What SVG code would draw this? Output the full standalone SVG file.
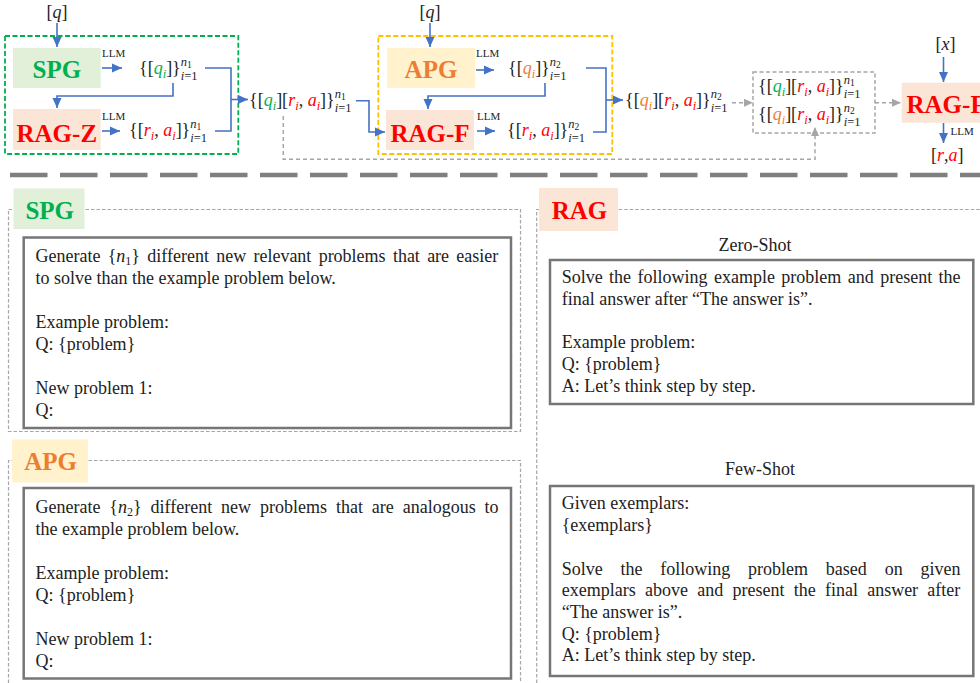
<svg xmlns="http://www.w3.org/2000/svg" width="980" height="683" viewBox="0 0 980 683">
<defs>
<marker id="ab" markerUnits="userSpaceOnUse" markerWidth="11" markerHeight="10" refX="10" refY="5" orient="auto"><path d="M0,0.5 L10,5 L0,9.5 z" fill="#4472C4"/></marker>
<marker id="ag" markerUnits="userSpaceOnUse" markerWidth="10" markerHeight="10" refX="9" refY="4.5" orient="auto"><path d="M0,0.5 L9,4.5 L0,8.5 z" fill="#A6A6A6"/></marker>
<style>
.t{font-family:"Liberation Serif","Times New Roman",serif;fill:#222}
.p{font-size:18px}
.m{font-size:18px}
.it{font-style:italic}
.s{font-size:12.5px}
.ss{font-size:9.5px}
.g{fill:#00B050}
.r{fill:#FF0000}
.o{fill:#ED7D31}
.lbl{font-family:"Liberation Serif","Times New Roman",serif;font-weight:bold;font-size:25px}
.mid{text-anchor:middle}
.llm{font-size:11px}
.bl{fill:none;stroke:#4472C4;stroke-width:1.6;marker-end:url(#ab)}
.bln{fill:none;stroke:#4472C4;stroke-width:1.6}
.gda{fill:none;stroke:#A6A6A6;stroke-width:1.5;stroke-dasharray:4 3;marker-end:url(#ag)}
.box{fill:#fff;stroke:#767676;stroke-width:2.5}
.frame{fill:none;stroke:#A6A6A6;stroke-width:1.2;stroke-dasharray:3.5 2}
</style>
</defs>
<rect width="980" height="683" fill="#fff"/>

<!-- group frames -->
<g id="group-spg">
<rect x="5" y="36" width="233.3" height="118" fill="none" stroke="#00B050" stroke-width="1.8" stroke-dasharray="5 2.5"/>
</g>
<g id="group-apg">
<rect x="378.3" y="36" width="234" height="118" fill="none" stroke="#FFC000" stroke-width="1.8" stroke-dasharray="5 2.5"/>
</g>

<!-- connectors -->
<g id="connectors">
<path class="bl" d="M57,23 V47"/>
<path class="bl" d="M102,68 H122"/>
<path class="bl" d="M173,83 V96 H57 V108"/>
<path class="bl" d="M102,131 H120"/>
<path class="bln" d="M205,68 H231 V131 H215"/>
<path class="bl" d="M231,99.5 H248"/>
<path class="bl" d="M356,100.7 H369 V132 H385"/>
<path class="bl" d="M430,23 V47"/>
<path class="bl" d="M476,70 H494"/>
<path class="bl" d="M545,83 V96 H428 V109"/>
<path class="bl" d="M477,131 H495"/>
<path class="bln" d="M586,68 H606 V132 H593"/>
<path class="bl" d="M606,100 H623"/>
<path class="bl" d="M943.5,57 V82"/>
<path class="bl" d="M943.5,123 V143"/>
<path class="gda" d="M732,102.7 H753"/>
<path class="gda" d="M875,102.7 H901"/>
<path class="gda" d="M283.3,116 V159.3 H815 V127"/>
</g>

<!-- inputs / labels -->
<g id="input-q1"><text class="t m mid" x="57" y="18">[<tspan class="it">q</tspan>]</text></g>
<g id="input-q2"><text class="t m mid" x="430" y="18">[<tspan class="it">q</tspan>]</text></g>
<g id="input-x"><text class="t m mid" x="945.5" y="50">[<tspan class="it">x</tspan>]</text></g>
<g id="output-ra"><text class="t m" x="931" y="160.5">[<tspan class="it r">r</tspan>,<tspan class="it r">a</tspan>]</text></g>

<g id="llm-labels">
<text class="t llm" x="102" y="57">LLM</text>
<text class="t llm" x="102" y="120">LLM</text>
<text class="t llm" x="476" y="57">LLM</text>
<text class="t llm" x="477" y="120">LLM</text>
<text class="t llm" x="950.5" y="135">LLM</text>
</g>

<!-- top nodes -->
<g id="node-spg">
<rect x="13" y="48" width="87.7" height="40" fill="#E2F0D9"/>
<text class="lbl g mid" x="56.8" y="78">SPG</text>
</g>
<g id="node-ragz">
<rect x="13" y="109" width="87.7" height="41" fill="#FBE5D6"/>
<text class="lbl r mid" x="56.8" y="141.7">RAG-Z</text>
</g>
<g id="node-apg">
<rect x="387" y="48" width="88" height="40" fill="#FFF2CC"/>
<text class="lbl o mid" x="431" y="78.3">APG</text>
</g>
<g id="node-ragf">
<rect x="386" y="110" width="88" height="40" fill="#FBE5D6"/>
<text class="lbl r mid" x="430" y="141.7">RAG-F</text>
</g>
<g id="node-ragf-final">
<rect x="901.7" y="82.7" width="100" height="40" fill="#FBE5D6"/>
<text class="lbl r" x="906.5" y="113.3">RAG-F</text>
</g>

<!-- math nodes -->
<g id="math-q-n1"><text class="t m" x="139" y="74">{[<tspan class="it g">q</tspan><tspan class="it g s" dy="3.5">i</tspan><tspan dy="-3.5">]}</tspan><tspan class="it s" dy="-8">n</tspan><tspan class="ss" dy="2">1</tspan><tspan class="s" dx="-11" dy="11.5"><tspan class="it">i</tspan>=1</tspan></text></g>
<g id="math-ra-n1"><text class="t m" x="129" y="136">{[<tspan class="it r">r</tspan><tspan class="it r s" dy="3.5">i</tspan><tspan dy="-3.5">, </tspan><tspan class="it r">a</tspan><tspan class="it r s" dy="3.5">i</tspan><tspan dy="-3.5">]}</tspan><tspan class="it s" dy="-8">n</tspan><tspan class="ss" dy="2">1</tspan><tspan class="s" dx="-11" dy="11.5"><tspan class="it">i</tspan>=1</tspan></text></g>
<g id="math-qra-n1"><text class="t m" x="249" y="106">{[<tspan class="it g">q</tspan><tspan class="it g s" dy="3.5">i</tspan><tspan dy="-3.5">][</tspan><tspan class="it r">r</tspan><tspan class="it r s" dy="3.5">i</tspan><tspan dy="-3.5">, </tspan><tspan class="it r">a</tspan><tspan class="it r s" dy="3.5">i</tspan><tspan dy="-3.5">]}</tspan><tspan class="it s" dy="-8">n</tspan><tspan class="ss" dy="2">1</tspan><tspan class="s" dx="-11" dy="11.5"><tspan class="it">i</tspan>=1</tspan></text></g>
<g id="math-q-n2"><text class="t m" x="508" y="74">{[<tspan class="it o">q</tspan><tspan class="it o s" dy="3.5">i</tspan><tspan dy="-3.5">]}</tspan><tspan class="it s" dy="-8">n</tspan><tspan class="ss" dy="2">2</tspan><tspan class="s" dx="-11" dy="11.5"><tspan class="it">i</tspan>=1</tspan></text></g>
<g id="math-ra-n2"><text class="t m" x="507" y="136">{[<tspan class="it r">r</tspan><tspan class="it r s" dy="3.5">i</tspan><tspan dy="-3.5">, </tspan><tspan class="it r">a</tspan><tspan class="it r s" dy="3.5">i</tspan><tspan dy="-3.5">]}</tspan><tspan class="it s" dy="-8">n</tspan><tspan class="ss" dy="2">2</tspan><tspan class="s" dx="-11" dy="11.5"><tspan class="it">i</tspan>=1</tspan></text></g>
<g id="math-qra-n2"><text class="t m" x="625" y="106">{[<tspan class="it o">q</tspan><tspan class="it o s" dy="3.5">i</tspan><tspan dy="-3.5">][</tspan><tspan class="it r">r</tspan><tspan class="it r s" dy="3.5">i</tspan><tspan dy="-3.5">, </tspan><tspan class="it r">a</tspan><tspan class="it r s" dy="3.5">i</tspan><tspan dy="-3.5">]}</tspan><tspan class="it s" dy="-8">n</tspan><tspan class="ss" dy="2">2</tspan><tspan class="s" dx="-11" dy="11.5"><tspan class="it">i</tspan>=1</tspan></text></g>
<g id="node-merged">
<rect x="753" y="72" width="122" height="61" fill="none" stroke="#A6A6A6" stroke-width="1.5" stroke-dasharray="4 2.5"/>
<text class="t m" x="758" y="92">{[<tspan class="it g">q</tspan><tspan class="it g s" dy="3.5">i</tspan><tspan dy="-3.5">][</tspan><tspan class="it r">r</tspan><tspan class="it r s" dy="3.5">i</tspan><tspan dy="-3.5">, </tspan><tspan class="it r">a</tspan><tspan class="it r s" dy="3.5">i</tspan><tspan dy="-3.5">]}</tspan><tspan class="it s" dy="-8">n</tspan><tspan class="ss" dy="2">1</tspan><tspan class="s" dx="-11" dy="11.5"><tspan class="it">i</tspan>=1</tspan></text>
<text class="t m" x="758" y="120">{[<tspan class="it o">q</tspan><tspan class="it o s" dy="3.5">i</tspan><tspan dy="-3.5">][</tspan><tspan class="it r">r</tspan><tspan class="it r s" dy="3.5">i</tspan><tspan dy="-3.5">, </tspan><tspan class="it r">a</tspan><tspan class="it r s" dy="3.5">i</tspan><tspan dy="-3.5">]}</tspan><tspan class="it s" dy="-8">n</tspan><tspan class="ss" dy="2">2</tspan><tspan class="s" dx="-11" dy="11.5"><tspan class="it">i</tspan>=1</tspan></text>
</g>

<!-- separator -->
<line x1="10" y1="175" x2="980" y2="175" stroke="#7F7F7F" stroke-width="4.5" stroke-dasharray="37.5 12.5"/>

<!-- SPG prompt -->
<g id="spg-prompt">
<path class="frame" d="M8.5,209.5 H520.5 V431.5 H8.5 Z"/>
<rect x="13.5" y="188.5" width="71" height="40.5" fill="#E2F0D9"/>
<text class="lbl g" x="25.4" y="218.5">SPG</text>
<rect class="box" x="23.7" y="237.5" width="487.3" height="190.5"/>
<text class="t p" x="35.5" y="262" style="word-spacing:2.76px">Generate {<tspan class="it">n</tspan><tspan font-size="12" dy="3">1</tspan><tspan dy="-3">} different new relevant problems that are easier</tspan></text>
<text class="t p" x="35.5" y="284">to solve than the example problem below.</text>
<text class="t p" x="35.5" y="328">Example problem:</text>
<text class="t p" x="35.5" y="350">Q: {problem}</text>
<text class="t p" x="35.5" y="394">New problem 1:</text>
<text class="t p" x="35.5" y="416">Q:</text>
</g>

<!-- APG prompt -->
<g id="apg-prompt">
<path class="frame" d="M8.5,683 V460.5 H520.5 V683"/>
<rect x="12" y="439.5" width="76" height="43" fill="#FFF2CC"/>
<text class="lbl o" x="24.3" y="470">APG</text>
<rect class="box" x="23.7" y="488" width="487.3" height="190.5"/>
<text class="t p" x="35.5" y="513" style="word-spacing:4.41px">Generate {<tspan class="it">n</tspan><tspan font-size="12" dy="3">2</tspan><tspan dy="-3">} different new problems that are analogous to</tspan></text>
<text class="t p" x="35.5" y="535">the example problem below.</text>
<text class="t p" x="35.5" y="579">Example problem:</text>
<text class="t p" x="35.5" y="601">Q: {problem}</text>
<text class="t p" x="35.5" y="645">New problem 1:</text>
<text class="t p" x="35.5" y="667">Q:</text>
</g>

<!-- RAG prompts -->
<g id="rag-prompt">
<path class="frame" d="M536.7,683 V209.5 H980"/>
<rect x="539" y="188" width="79" height="43" fill="#FBE5D6"/>
<text class="lbl r" x="551.7" y="218.5">RAG</text>
<text class="t p mid" x="755" y="250.5">Zero-Shot</text>
<rect class="box" x="550" y="260" width="423.3" height="144"/>
<text class="t p" x="561.7" y="283.3" style="word-spacing:1.93px">Solve the following example problem and present the</text>
<text class="t p" x="561.7" y="305">final answer after “The answer is”.</text>
<text class="t p" x="561.7" y="348.3">Example problem:</text>
<text class="t p" x="561.7" y="370">Q: {problem}</text>
<text class="t p" x="561.7" y="391.7">A: Let’s think step by step.</text>
<text class="t p mid" x="760" y="475">Few-Shot</text>
<rect class="box" x="550" y="486" width="423.3" height="190"/>
<text class="t p" x="561.7" y="509">Given exemplars:</text>
<text class="t p" x="561.7" y="530.7">{exemplars}</text>
<text class="t p" x="561.7" y="574.5" style="word-spacing:13.3px">Solve the following problem based on given</text>
<text class="t p" x="561.7" y="596.2" style="word-spacing:4.76px">exemplars above and present the final answer after</text>
<text class="t p" x="561.7" y="618">“The answer is”.</text>
<text class="t p" x="561.7" y="639.7">Q: {problem}</text>
<text class="t p" x="561.7" y="661.4">A: Let’s think step by step.</text>
</g>
</svg>
